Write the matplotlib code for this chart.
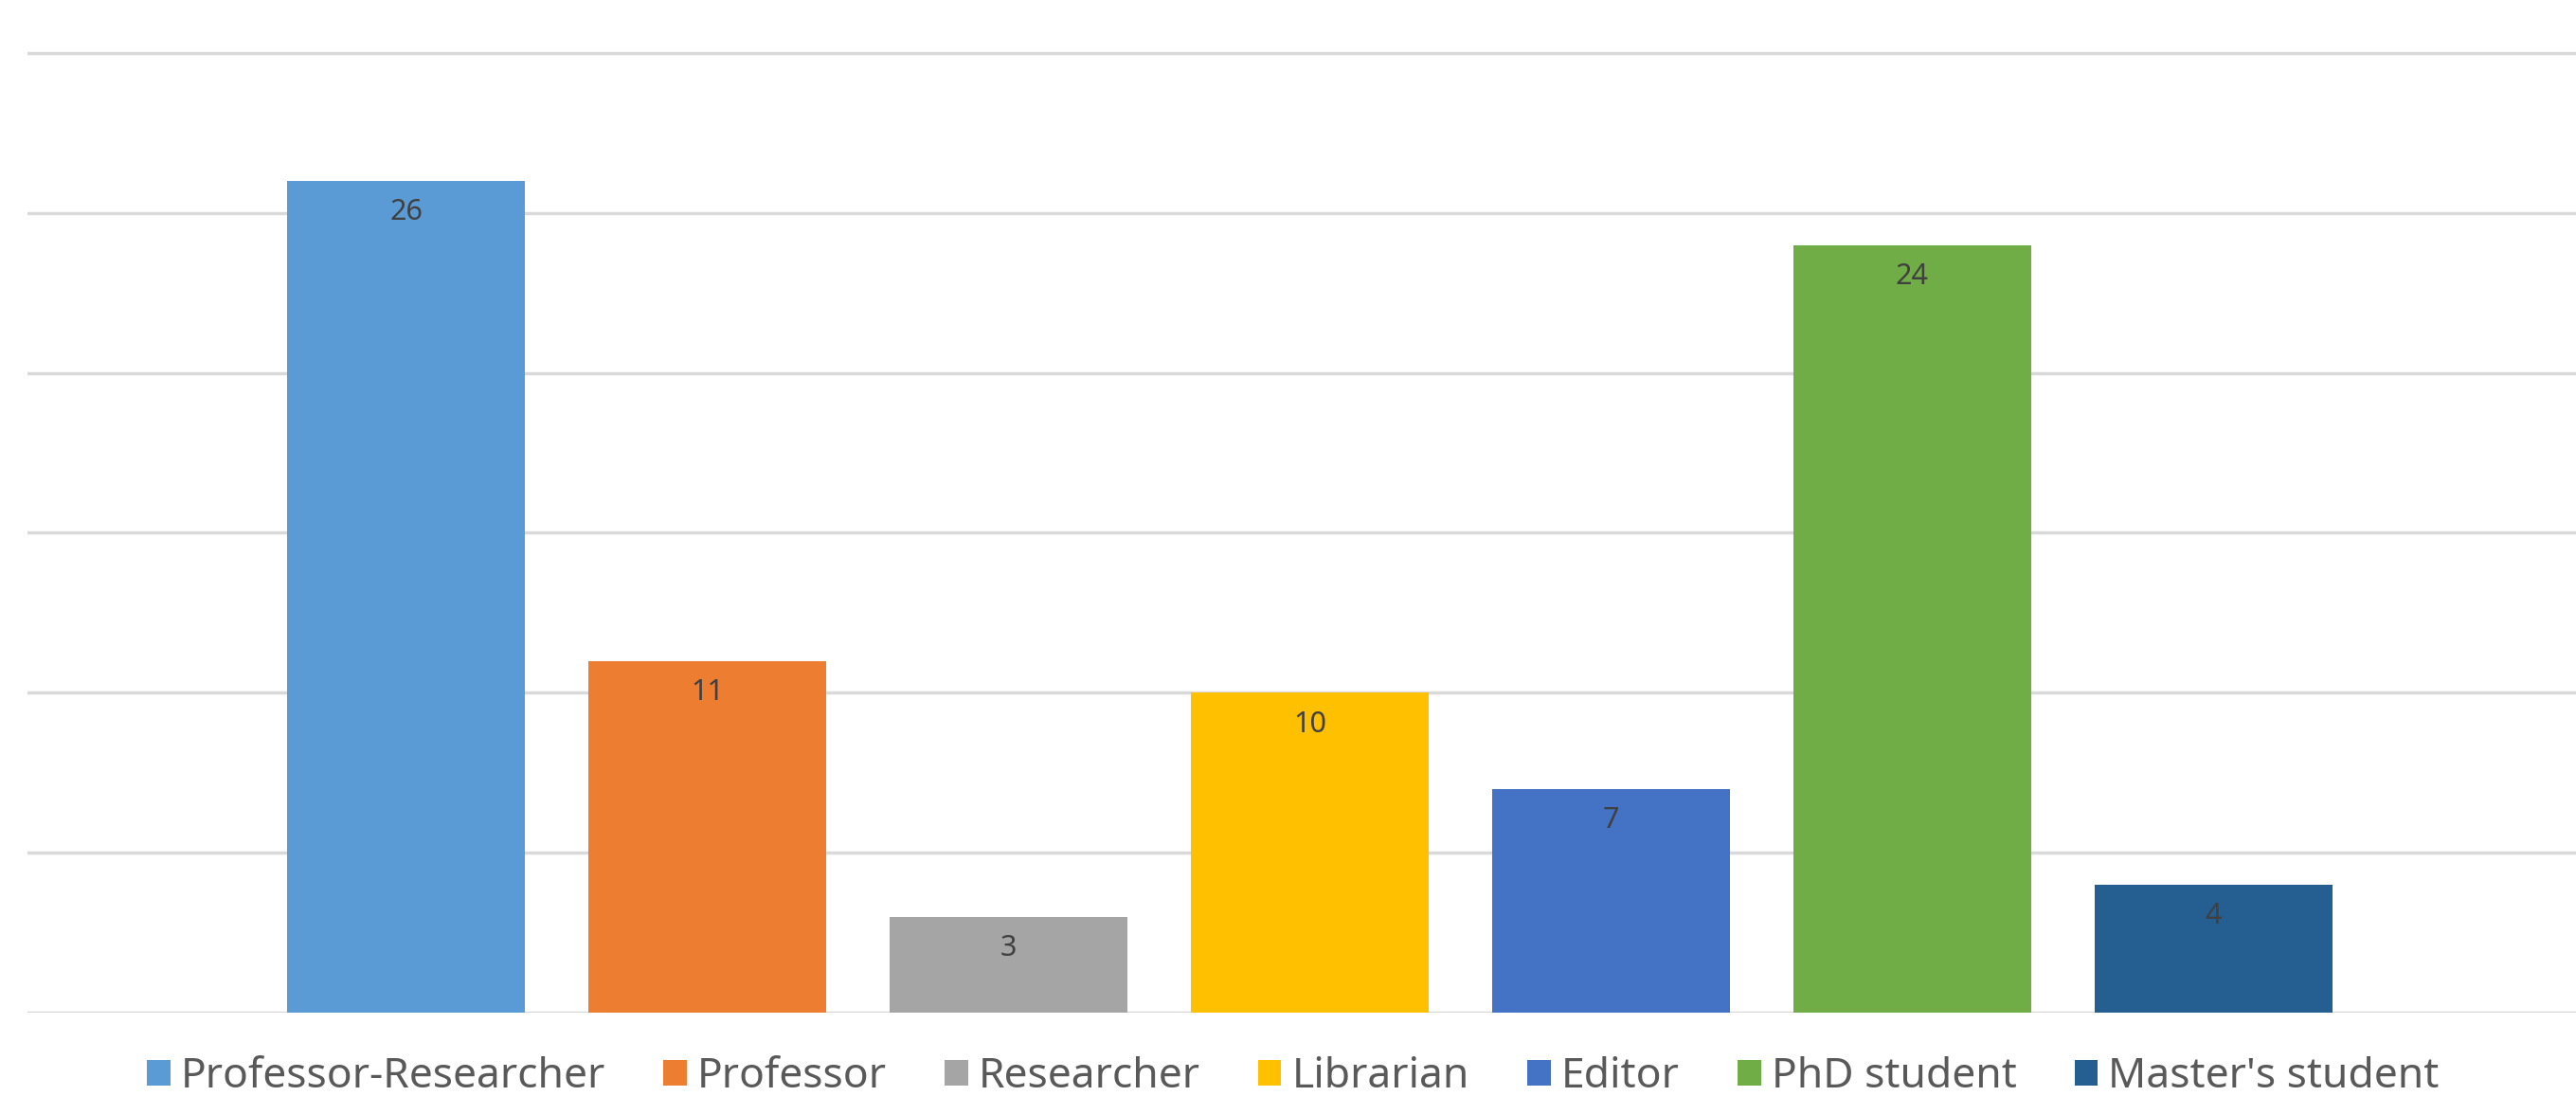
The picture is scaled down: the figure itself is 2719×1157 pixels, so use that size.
import matplotlib
matplotlib.use('Agg')
import matplotlib.pyplot as plt
from matplotlib.patches import Patch

# dados do gráfico
categorias = ['Professor-Researcher', 'Professor', 'Researcher', 'Librarian',
              'Editor', 'PhD student', "Master's student"]
valores = [26, 11, 3, 10, 7, 24, 4]
cores = ['#5B9BD5', '#ED7D31', '#A5A5A5', '#FFC000', '#4472C4', '#70AD47', '#255E91']
grade_y = [0, 5, 10, 15, 20, 25, 30]

plt.rcParams['font.family'] = ['Noto Sans', 'DejaVu Sans']

fig = plt.figure(figsize=(27.19, 11.57), dpi=100)
ax = fig.add_axes([0.0108, 0.0761, 0.9892, 0.9239])

posicoes = list(range(len(categorias)))
barras = ax.bar(posicoes, valores, width=0.79, color=cores, zorder=3)

# rótulos dentro do topo da barra
for p, v in zip(posicoes, valores):
    ax.annotate(str(v), (p, v), xytext=(0, -24), textcoords='offset points',
                ha='center', va='center', fontsize=22, color='#404040', zorder=4)

ax.set_xlim(-1.255, 7.203)
ax.set_ylim(0, 31.66)
ax.set_yticks(grade_y)
ax.yaxis.grid(True, color='#D9D9D9', linewidth=2.5, zorder=0)
ax.tick_params(left=False, bottom=False, labelleft=False, labelbottom=False)
for s in ax.spines.values():
    s.set_visible(False)

handles = [Patch(facecolor=c, edgecolor='none') for c in cores]
fig.legend(handles, categorias, loc='center', bbox_to_anchor=(0.502, 1 - 1137 / 1157),
           ncol=len(categorias), frameon=False, fontsize=32, labelcolor='#595959',
           handlelength=0.55, handleheight=0.55, handletextpad=0.25, columnspacing=1.38,
           borderaxespad=0, borderpad=0)

fig.savefig('out.png', dpi=100)
